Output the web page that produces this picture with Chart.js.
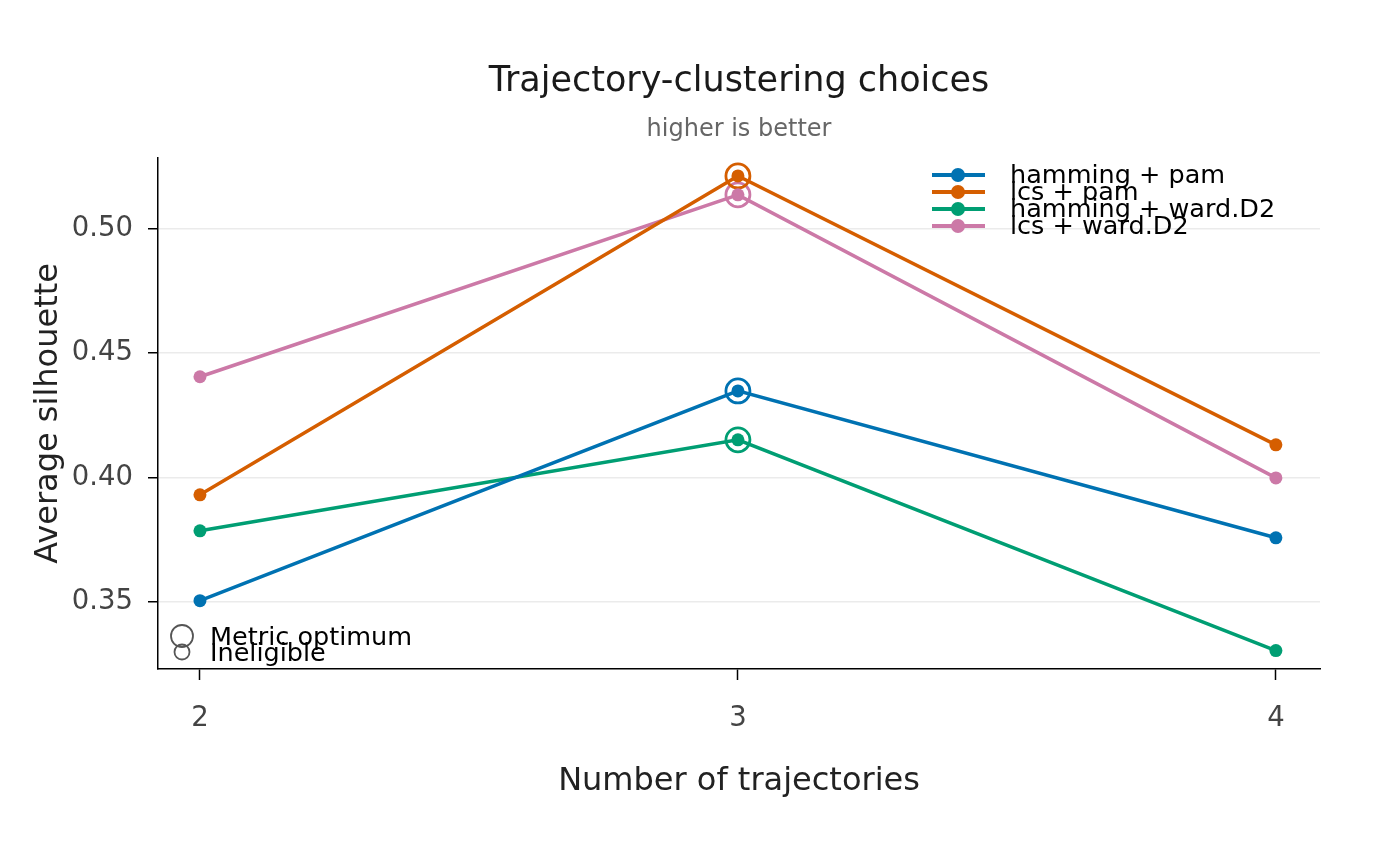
<!DOCTYPE html>
<html lang="en">
<head>
    <meta charset="UTF-8">
    <title>Trajectory-clustering choices</title>
    <script src="https://cdn.jsdelivr.net/npm/chart.js"></script>
    <style>
        html, body {
            margin: 0;
            padding: 0;
            background: #fff;
        }
        .chart-container {
            width: 1400px;
            height: 866px;
            position: relative;
        }
    </style>
</head>
<body>
    <div class="chart-container">
        <canvas id="silChart"></canvas>
    </div>

    <script>
        // number of trajectories (k)
        const kValues = [2, 3, 4];

        const seriesLabels = ['hamming + pam', 'lcs + pam', 'hamming + ward.D2', 'lcs + ward.D2'];
        const seriesColors = ['#0072B2', '#D55E00', '#009E73', '#CC79A7'];

        // average silhouette per k
        const hammingPam = [0.3504, 0.4348, 0.3757];
        const lcsPam = [0.3930, 0.5213, 0.4131];
        const hammingWard = [0.3785, 0.4151, 0.3303];
        const lcsWard = [0.4405, 0.5137, 0.3998];
        const seriesValues = [hammingPam, lcsPam, hammingWard, lcsWard];

        // k chosen as metric optimum for each series
        const optimumK = [3, 3, 3, 3];

        const xTicks = [2, 3, 4];
        const yTicks = [0.35, 0.40, 0.45, 0.50];

        const FONT = "'DejaVu Sans', sans-serif";

        const lineSets = seriesValues.map((vals, i) => ({
            type: 'line',
            label: seriesLabels[i],
            data: kValues.map((k, j) => ({ x: k, y: vals[j] })),
            borderColor: seriesColors[i],
            backgroundColor: seriesColors[i],
            borderWidth: 3.5,
            pointRadius: 6.5,
            pointHoverRadius: 6.5,
            pointBorderWidth: 0,
            tension: 0
        }));

        const ringSets = seriesValues.map((vals, i) => ({
            type: 'scatter',
            label: seriesLabels[i] + ' optimum',
            data: [{ x: optimumK[i], y: vals[kValues.indexOf(optimumK[i])] }],
            borderColor: seriesColors[i],
            backgroundColor: 'rgba(0,0,0,0)',
            borderWidth: 2.8,
            pointRadius: 12,
            pointHoverRadius: 12
        }));

        // legends drawn inside the plot, rows overlap like the original
        const legendPlugin = {
            id: 'overlayLegends',
            afterDraw(chart) {
                const ctx = chart.ctx;
                ctx.save();
                ctx.font = '25.5px ' + FONT;
                ctx.textBaseline = 'middle';
                ctx.textAlign = 'left';
                seriesLabels.forEach((lab, i) => {
                    const y = 175 + i * 17;
                    ctx.strokeStyle = seriesColors[i];
                    ctx.lineWidth = 4;
                    ctx.beginPath();
                    ctx.moveTo(932, y);
                    ctx.lineTo(985, y);
                    ctx.stroke();
                    ctx.fillStyle = seriesColors[i];
                    ctx.beginPath();
                    ctx.arc(958, y, 7, 0, Math.PI * 2);
                    ctx.fill();
                    ctx.fillStyle = '#000';
                    ctx.fillText(lab, 1010, y + 1);
                });

                const marks = [
                    { label: 'Metric optimum', r: 11, y: 636 },
                    { label: 'Ineligible', r: 7.5, y: 652 }
                ];
                marks.forEach(m => {
                    ctx.strokeStyle = '#555';
                    ctx.lineWidth = 1.8;
                    ctx.beginPath();
                    ctx.arc(182, m.y, m.r, 0, Math.PI * 2);
                    ctx.stroke();
                    ctx.fillStyle = '#000';
                    ctx.fillText(m.label, 210, m.y + 2);
                });
                ctx.restore();
            }
        };

        const ctx = document.getElementById('silChart').getContext('2d');
        new Chart(ctx, {
            data: {
                datasets: lineSets.concat(ringSets)
            },
            options: {
                responsive: true,
                maintainAspectRatio: false,
                animation: false,
                layout: {
                    padding: { top: 0, left: 0, right: 80, bottom: 0 }
                },
                plugins: {
                    legend: { display: false },
                    tooltip: { enabled: false },
                    title: {
                        display: true,
                        text: 'Trajectory-clustering choices',
                        fullSize: false,
                        color: '#1a1a1a',
                        font: { family: FONT, size: 35, weight: 'normal', lineHeight: 1.2 },
                        padding: { top: 61, bottom: 0 }
                    },
                    subtitle: {
                        display: true,
                        text: 'higher is better',
                        fullSize: false,
                        color: '#666',
                        font: { family: FONT, size: 24, weight: 'normal', lineHeight: 1.2 },
                        padding: { top: 12, bottom: 14 }
                    }
                },
                scales: {
                    x: {
                        type: 'linear',
                        min: 1.922,
                        max: 4.082,
                        afterBuildTicks: scale => {
                            scale.ticks = xTicks.map(v => ({ value: v }));
                        },
                        afterFit: scale => {
                            scale.height = 197;
                        },
                        ticks: {
                            color: '#444',
                            padding: 22,
                            font: { family: FONT, size: 27.5 },
                            callback: v => String(v)
                        },
                        grid: {
                            drawOnChartArea: false,
                            drawTicks: true,
                            tickLength: 11,
                            tickColor: '#000',
                            tickWidth: 1.5
                        },
                        border: { display: true, color: '#000', width: 1.5 },
                        title: {
                            display: true,
                            text: 'Number of trajectories',
                            color: '#222',
                            font: { family: FONT, size: 32, lineHeight: 1.2 },
                            padding: { top: 0, bottom: 65 }
                        }
                    },
                    y: {
                        type: 'linear',
                        min: 0.3229,
                        max: 0.5286,
                        afterBuildTicks: scale => {
                            scale.ticks = yTicks.map(v => ({ value: v }));
                        },
                        afterFit: scale => {
                            scale.width = 158;
                        },
                        ticks: {
                            color: '#444',
                            padding: 15,
                            font: { family: FONT, size: 27.5 },
                            callback: v => v.toFixed(2)
                        },
                        grid: {
                            color: '#ebebeb',
                            lineWidth: 1.5,
                            drawTicks: true,
                            tickLength: 10,
                            tickColor: '#000',
                            tickWidth: 1.5
                        },
                        border: { display: true, color: '#000', width: 1.5 },
                        title: {
                            display: true,
                            text: 'Average silhouette',
                            color: '#222',
                            font: { family: FONT, size: 32, lineHeight: 1.2 },
                            padding: { top: 29, bottom: 0 }
                        }
                    }
                }
            },
            plugins: [legendPlugin]
        });
    </script>
</body>
</html>
